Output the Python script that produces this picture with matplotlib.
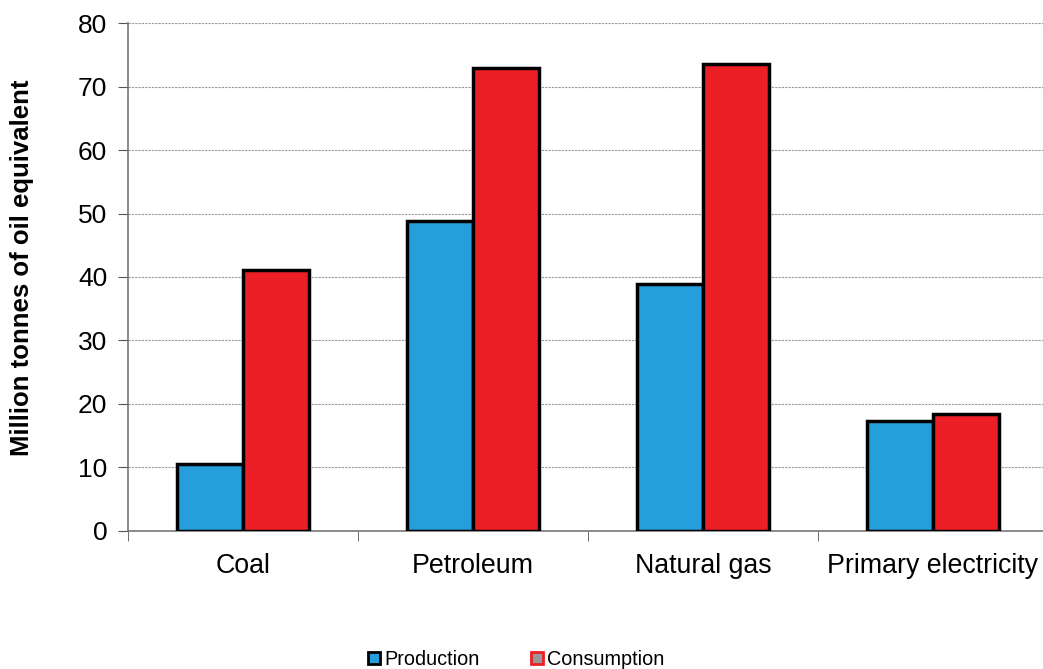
import numpy as np
import matplotlib.pyplot as plt
from matplotlib.patches import Patch

plt.rcParams['font.family'] = ['Liberation Sans', 'DejaVu Sans']

categories = ["Coal", "Petroleum", "Natural gas", "Primary electricity"]
production = [10.6, 48.8, 38.9, 17.3]
consumption = [41.1, 72.9, 73.5, 18.5]

blue = "#259fdb"
red = "#ec1f26"

fig = plt.figure(figsize=(10.43, 6.69), dpi=100)
ax = fig.add_axes([0.1227, 0.2063, 0.882, 0.7593])

x = np.arange(len(categories))
w = 0.287
ax.bar(x - w / 2, production, w, color=blue, edgecolor="black", linewidth=2.5, zorder=3)
ax.bar(x + w / 2, consumption, w, color=red, edgecolor="black", linewidth=2.5, zorder=3)

ax.set_xlim(-0.5, len(categories) - 0.5)
ax.set_ylim(0, 80)
ax.set_yticks(range(0, 81, 10))
ax.yaxis.grid(True, color="#999999", linestyle=(0, (2, 1)), linewidth=0.8, zorder=0)

ax.set_xticks(x)
ax.set_xticklabels(categories, fontsize=19.3)
ax.set_xticks(np.arange(-0.5, len(categories)), minor=True)
ax.tick_params(axis="x", which="major", length=0, pad=16)
ax.tick_params(axis="x", which="minor", length=7, direction="out", color="#555555")
ax.tick_params(axis="y", labelsize=19, length=7, color="#555555", pad=8)

for s in ["top", "right"]:
    ax.spines[s].set_visible(False)
for s in ["left", "bottom"]:
    ax.spines[s].set_color("#777777")
    ax.spines[s].set_linewidth(1.2)

ax.set_ylabel("Million tonnes of oil equivalent", fontsize=18.5, fontweight="bold")
ax.yaxis.set_label_coords(-0.102, 0.518)

handles = [Patch(facecolor=blue, edgecolor="black", linewidth=2),
           Patch(facecolor="#999999", edgecolor=red, linewidth=2)]
fig.legend(handles, ["Production", "Consumption"], loc="lower center",
           bbox_to_anchor=(0.495, -0.027), ncol=2, frameon=False, fontsize=14.3,
           handlelength=0.6, handleheight=0.6, handletextpad=0.2, columnspacing=2.6)

fig.savefig("out.png", dpi=100)
